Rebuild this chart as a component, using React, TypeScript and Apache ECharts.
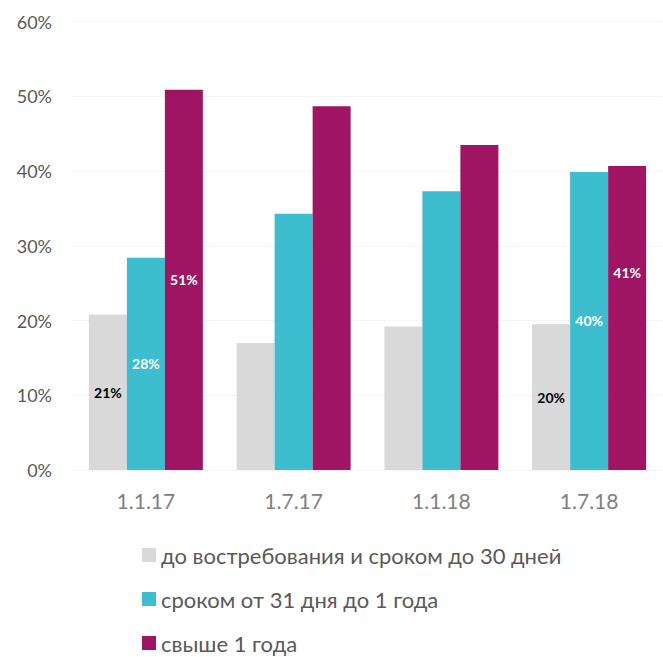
import React, { useEffect, useRef } from "react";
import * as echarts from "echarts";

const categories = ["1.1.17", "1.7.17", "1.1.18", "1.7.18"];
const seriesNames = [
  "до востребования и сроком до 30 дней",
  "сроком от 31 дня до 1 года",
  "свыше 1 года",
];
const shortTerm = [20.8, 17.0, 19.2, 19.5];
const midTerm = [28.4, 34.3, 37.3, 39.9];
const longTerm = [50.9, 48.7, 43.5, 40.7];
const shortLabels = ["21%", "", "", "20%"];
const midLabels = ["28%", "", "", "40%"];
const longLabels = ["51%", "", "", "41%"];
const yTicks = [0, 10, 20, 30, 40, 50, 60];

const colors = ["#d9d9d9", "#3dbece", "#a01464"];
const FONT = "Lato, 'DejaVu Sans', sans-serif";

export default function App() {
  const ref = useRef<HTMLDivElement>(null);
  useEffect(() => {
    document.body.style.margin = "0";
    if (!ref.current) return;
    const chart = echarts.init(ref.current, null, { renderer: "svg" });
    const mk = (
      name: string,
      values: number[],
      labels: string[],
      color: string,
      labelColor: string,
      offsets: number[][]
    ) => ({
      name,
      type: "bar",
      barWidth: 38,
      barGap: "0%",
      itemStyle: { color },
      data: values.map((v, i) => ({
        value: v,
        label: {
          show: labels[i] !== "",
          position: "inside",
          formatter: labels[i],
          color: labelColor,
          fontWeight: "bold",
          fontSize: 14,
          fontFamily: FONT,
          offset: offsets[i],
        },
      })),
    });
    chart.setOption({
      animation: false,
      color: colors,
      textStyle: { fontFamily: FONT },
      grid: { left: 72, right: -6, top: 21.7, bottom: 187, containLabel: false },
      legend: {
        orient: "vertical",
        left: 142,
        top: 544,
        padding: 0,
        itemWidth: 14,
        itemHeight: 14,
        itemGap: 22,
        icon: "rect",
        textStyle: { fontSize: 22, color: "#595959", fontFamily: FONT, lineHeight: 22 },
        data: seriesNames,
      },
      xAxis: {
        type: "category",
        data: categories,
        axisLine: { show: false },
        axisTick: { show: false },
        axisLabel: { fontSize: 21, color: "#808080", margin: 20, fontFamily: FONT },
      },
      yAxis: {
        type: "value",
        min: yTicks[0],
        max: yTicks[yTicks.length - 1],
        interval: 10,
        axisLine: { show: false },
        axisTick: { show: false },
        axisLabel: {
          fontSize: 18,
          color: "#595959",
          margin: 20,
          fontFamily: FONT,
          formatter: (v: number) => v + "%",
        },
        splitLine: { show: true, lineStyle: { color: "#ececec", type: "dotted", width: 1 } },
      },
      series: [
        mk(seriesNames[0], shortTerm, shortLabels, colors[0], "#000000", [[0, 0], [0, 0], [0, 0], [0, 0]]),
        mk(seriesNames[1], midTerm, midLabels, colors[1], "#ffffff", [[0, 0], [0, 0], [0, 0], [0, 0]]),
        mk(seriesNames[2], longTerm, longLabels, colors[2], "#ffffff", [[0, 0], [0, 0], [0, 0], [0, -45]]),
      ],
    });
    return () => chart.dispose();
  }, []);
  return <div ref={ref} style={{ width: 663, height: 657 }} />;
}
